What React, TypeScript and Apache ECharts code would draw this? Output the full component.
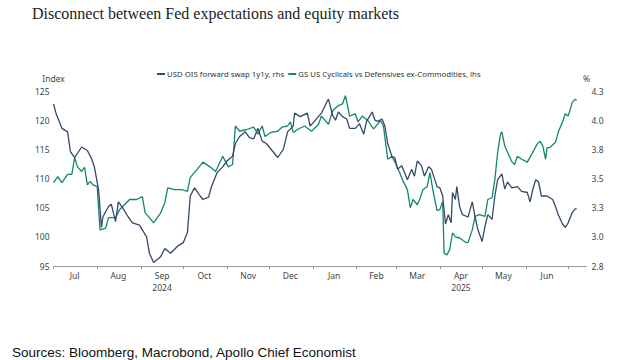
import React, { useEffect, useRef } from "react";
import * as echarts from "echarts";

const title = "Disconnect between Fed expectations and equity markets";
const source = "Sources: Bloomberg, Macrobond, Apollo Chief Economist";
const navyName = "USD OIS forward swap 1y1y, rhs";
const greenName = "GS US Cyclicals vs Defensives ex-Commodities, lhs";

const navyDates = [
  "2024-07-01","2024-07-03","2024-07-07","2024-07-11","2024-07-13","2024-07-16","2024-07-21","2024-07-25","2024-07-28","2024-07-30",
  "2024-08-02","2024-08-04","2024-08-05","2024-08-09","2024-08-11","2024-08-14","2024-08-16","2024-08-19","2024-08-23","2024-08-26","2024-08-31",
  "2024-09-05","2024-09-07","2024-09-10","2024-09-15","2024-09-18","2024-09-22","2024-09-27",
  "2024-10-01","2024-10-04","2024-10-06","2024-10-09","2024-10-13","2024-10-15","2024-10-19","2024-10-21","2024-10-25","2024-10-29",
  "2024-11-01","2024-11-05","2024-11-07","2024-11-10","2024-11-14","2024-11-17","2024-11-20","2024-11-23","2024-11-26","2024-11-29",
  "2024-12-03","2024-12-05","2024-12-07","2024-12-11","2024-12-14","2024-12-18","2024-12-19","2024-12-23","2024-12-28","2024-12-30",
  "2025-01-02","2025-01-07","2025-01-11","2025-01-12","2025-01-15","2025-01-17","2025-01-19","2025-01-22","2025-01-25","2025-01-27","2025-01-31",
  "2025-02-03","2025-02-06","2025-02-08","2025-02-12","2025-02-14","2025-02-16","2025-02-19","2025-02-21","2025-02-23","2025-02-26","2025-02-28",
  "2025-03-02","2025-03-05","2025-03-07","2025-03-09","2025-03-12","2025-03-14","2025-03-16","2025-03-19","2025-03-21","2025-03-24","2025-03-26","2025-03-30",
  "2025-04-01","2025-04-03","2025-04-05","2025-04-07","2025-04-09","2025-04-10","2025-04-12","2025-04-13","2025-04-15","2025-04-17","2025-04-21","2025-04-24","2025-04-26","2025-04-28",
  "2025-05-01","2025-05-03","2025-05-05","2025-05-08","2025-05-10","2025-05-12","2025-05-15","2025-05-17","2025-05-19","2025-05-22","2025-05-26","2025-05-29",
  "2025-06-02","2025-06-04","2025-06-06","2025-06-08","2025-06-10","2025-06-12","2025-06-16","2025-06-20","2025-06-22","2025-06-24","2025-06-27","2025-06-29",
  "2025-07-01","2025-07-04","2025-07-06","2025-07-07"
];
const navyValues = [
  4.14,4.05,3.93,3.9,3.73,3.68,3.77,3.74,3.67,3.6,
  3.4,3.08,3.17,3.26,3.28,3.13,3.3,3.25,3.17,3.12,3.1,
  3.0,2.86,2.78,2.83,2.9,2.86,2.92,
  2.95,3.04,3.35,3.42,3.35,3.32,3.34,3.43,3.55,3.6,
  3.65,3.69,3.8,3.86,3.9,3.85,3.84,3.93,3.82,3.8,
  3.74,3.71,3.68,3.75,3.9,3.95,4.06,4.03,4.06,3.95,
  3.99,4.06,4.16,4.18,4.04,4.0,4.07,4.03,4.01,3.93,3.93,
  3.97,3.88,3.99,4.07,4.0,3.99,4.01,3.95,3.8,3.69,3.68,
  3.58,3.61,3.55,3.49,3.58,3.52,3.65,3.61,3.52,3.6,3.58,3.43,
  3.42,3.35,3.11,3.19,3.12,3.38,3.32,3.43,3.26,3.19,3.17,3.3,3.17,3.06,
  2.96,3.09,3.19,3.15,3.35,3.49,3.54,3.41,3.47,3.42,3.43,3.39,
  3.38,3.3,3.41,3.49,3.47,3.35,3.35,3.32,3.26,3.19,3.11,3.08,
  3.12,3.21,3.24,3.24
];

const greenDates = [
  "2024-07-01","2024-07-04","2024-07-07","2024-07-11","2024-07-14","2024-07-16","2024-07-18","2024-07-21","2024-07-23","2024-07-25","2024-07-27","2024-07-29",
  "2024-08-01","2024-08-03","2024-08-07","2024-08-09","2024-08-14","2024-08-17","2024-08-24","2024-08-29",
  "2024-09-02","2024-09-04","2024-09-07","2024-09-10","2024-09-15","2024-09-18","2024-09-20","2024-09-25","2024-09-30",
  "2024-10-04","2024-10-06","2024-10-11","2024-10-15","2024-10-20","2024-10-24","2024-10-29",
  "2024-11-02","2024-11-05","2024-11-07","2024-11-10","2024-11-15","2024-11-20","2024-11-23","2024-11-26","2024-11-28",
  "2024-12-02","2024-12-07","2024-12-10","2024-12-14","2024-12-16","2024-12-18","2024-12-21","2024-12-26","2024-12-31",
  "2025-01-05","2025-01-07","2025-01-12","2025-01-15","2025-01-19","2025-01-22","2025-01-24","2025-01-25","2025-01-27","2025-01-31",
  "2025-02-02","2025-02-05","2025-02-09","2025-02-13","2025-02-18","2025-02-20","2025-02-22","2025-02-23","2025-02-26","2025-02-28",
  "2025-03-04","2025-03-06","2025-03-09","2025-03-11","2025-03-13","2025-03-16","2025-03-18","2025-03-20","2025-03-23","2025-03-25","2025-03-27","2025-03-30",
  "2025-04-01","2025-04-03","2025-04-04","2025-04-06","2025-04-08","2025-04-10","2025-04-12","2025-04-15","2025-04-19","2025-04-21","2025-04-24","2025-04-26","2025-04-29",
  "2025-05-03","2025-05-05","2025-05-08","2025-05-10","2025-05-12","2025-05-14","2025-05-15","2025-05-17","2025-05-19","2025-05-22","2025-05-24","2025-05-26","2025-05-29",
  "2025-06-02","2025-06-05","2025-06-09","2025-06-11","2025-06-13","2025-06-15","2025-06-16","2025-06-18","2025-06-22","2025-06-24","2025-06-27","2025-06-29",
  "2025-07-01","2025-07-04","2025-07-06","2025-07-07"
];
const greenValues = [
  109.3,110.3,109.3,110.7,110.7,113.6,112.0,111.2,111.9,108.9,109.5,108.9,
  108.6,101.2,101.5,103.3,103.3,104.7,106.4,106.4,
  106.9,104.1,103.3,102.4,104.1,105.9,108.4,108.1,108.1,
  107.8,110.2,111.6,112.8,112.0,111.2,113.8,
  112.0,112.4,119.0,118.1,118.4,118.8,117.6,119.0,117.2,
  117.9,118.1,118.8,119.0,119.7,117.9,118.4,119.0,118.1,
  119.3,120.7,119.3,121.6,122.5,122.8,124.2,123.1,120.7,121.1,
  119.7,120.7,119.9,118.5,119.9,119.0,115.3,113.3,113.8,112.9,
  110.7,109.5,108.1,105.0,106.4,105.5,106.6,108.1,108.6,111.0,108.1,104.5,
  104.7,106.0,97.2,96.9,97.8,100.7,100.0,99.8,99.1,99.0,101.2,103.5,103.8,
  103.5,106.4,106.7,109.8,114.5,117.6,118.0,115.6,114.5,112.9,112.4,113.8,113.3,
  112.8,114.1,115.9,116.4,115.6,113.3,115.3,115.3,116.2,118.0,119.7,121.1,
  120.7,123.1,123.6,123.4
];

const tickDates = [
  "2024-07-01","2024-08-01","2024-09-01","2024-10-01","2024-11-01","2024-12-01",
  "2025-01-01","2025-02-01","2025-03-01","2025-04-01","2025-05-01","2025-06-01","2025-07-01"
];
const labelDates = [
  "2024-07-16","2024-08-16","2024-09-16","2024-10-16","2024-11-16","2024-12-16",
  "2025-01-16","2025-02-15","2025-03-16","2025-04-16","2025-05-16","2025-06-16"
];
const xRange = ["2024-07-01", "2025-07-14"];
const monthNames = ["Jan","Feb","Mar","Apr","May","Jun","Jul","Aug","Sep","Oct","Nov","Dec"];
const yearLabels: Record<string, string> = { "2024-8": "2024", "2025-3": "2025" };

const leftTicks = { min: 95, max: 125, interval: 5 };
const rightTicks = { min: 2.75, max: 4.25, interval: 0.25 };

const ts = (s: string) => {
  const [y, m, d] = s.split("-").map(Number);
  return Date.UTC(y, m - 1, d);
};

export default function App() {
  const ref = useRef<HTMLDivElement>(null);
  useEffect(() => {
    const chart = echarts.init(ref.current!, null, { renderer: "svg" });
    const navyColor = "#34496c";
    const greenColor = "#14876a";
    const labelColor = "#444";
    chart.setOption({
      animation: false,
      title: [
        {
          text: title,
          left: 27,
          top: 0,
          textStyle: { fontFamily: "Liberation Serif", fontSize: 16, fontWeight: "normal", color: "#222" },
        },
        {
          text: source,
          left: 7,
          top: 340,
          textStyle: { fontFamily: "Liberation Sans", fontSize: 13.5, fontWeight: "normal", color: "#111" },
        },
      ],
      legend: {
        data: [navyName, greenName],
        top: 65,
        left: 152,
        icon: "rect",
        itemWidth: 8,
        itemHeight: 2,
        itemGap: 4,
        textStyle: { fontFamily: "Noto Sans", fontSize: 7.8, color: "#333", padding: [0, 0, 0, -3] },
      },
      grid: { left: 53.5, right: 53.5, top: 91, bottom: 94 },
      xAxis: {
        type: "value",
        min: ts(xRange[0]),
        max: ts(xRange[1]),
        axisLine: { show: true, lineStyle: { color: "#999", width: 1 } },
        axisTick: { show: true, customValues: tickDates.map(ts), length: 3, lineStyle: { color: "#999" } },
        splitLine: { show: false },
        axisLabel: {
          customValues: labelDates.map(ts),
          hideOverlap: false,
          showMinLabel: true,
          showMaxLabel: true,
          color: labelColor,
          fontFamily: "Noto Sans",
          fontSize: 8.5,
          margin: 3,
          lineHeight: 12,
          formatter: (v: number) => {
            const d = new Date(v);
            const key = d.getUTCFullYear() + "-" + d.getUTCMonth();
            const name = monthNames[d.getUTCMonth()];
            return yearLabels[key] ? name + "\n" + yearLabels[key] : name;
          },
        },
      },
      yAxis: [
        {
          type: "value",
          position: "left",
          min: leftTicks.min,
          max: leftTicks.max,
          interval: leftTicks.interval,
          name: "Index",
          nameLocation: "end",
          nameGap: 8,
          nameTextStyle: { color: labelColor, fontFamily: "Noto Sans", fontSize: 8.5, align: "center" },
          axisLine: { show: false },
          axisTick: { show: false },
          splitLine: { show: false },
          axisLabel: { color: labelColor, fontFamily: "Noto Sans", fontSize: 8.5, margin: 4 },
        },
        {
          type: "value",
          position: "right",
          min: rightTicks.min,
          max: rightTicks.max,
          interval: rightTicks.interval,
          name: "%",
          nameLocation: "end",
          nameGap: 8,
          nameTextStyle: { color: labelColor, fontFamily: "Noto Sans", fontSize: 8.5, align: "center" },
          axisLine: { show: false },
          axisTick: { show: false },
          splitLine: { show: false },
          axisLabel: {
            color: labelColor,
            fontFamily: "Noto Sans",
            fontSize: 8.5,
            margin: 5,
            formatter: (v: number) => v.toFixed(1),
          },
        },
      ],
      series: [
        {
          name: greenName,
          type: "line",
          yAxisIndex: 0,
          symbol: "none",
          color: greenColor,
          lineStyle: { width: 1.3, color: greenColor },
          data: greenDates.map((d, i) => [ts(d), greenValues[i]]),
        },
        {
          name: navyName,
          type: "line",
          yAxisIndex: 1,
          symbol: "none",
          color: navyColor,
          lineStyle: { width: 1.3, color: navyColor },
          data: navyDates.map((d, i) => [ts(d), navyValues[i]]),
        },
      ],
    });
    return () => chart.dispose();
  }, []);
  return <div ref={ref} style={{ width: 640, height: 360, position: "absolute", left: 0, top: 0 }} />;
}
